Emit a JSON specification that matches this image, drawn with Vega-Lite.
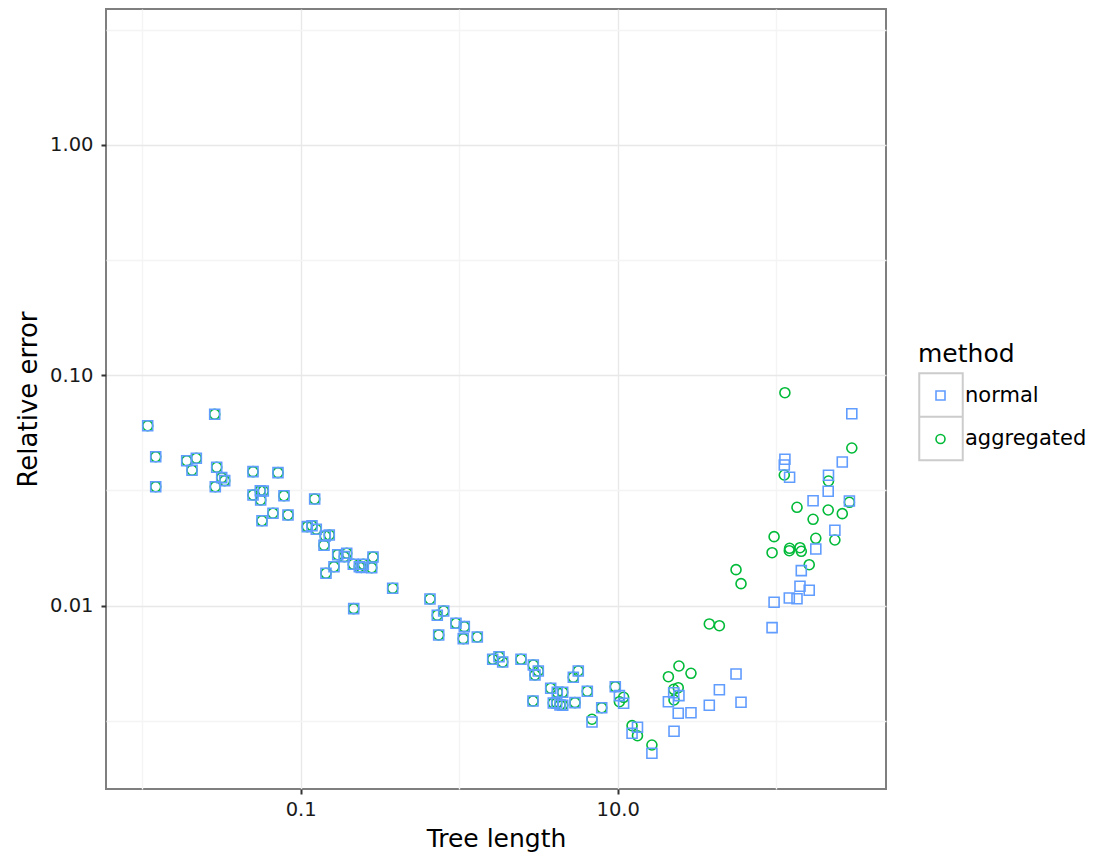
{
  "$schema": "https://vega.github.io/schema/vega-lite/v6.json",
  "width": 780,
  "height": 780,
  "autosize": {"type": "none"},
  "padding": {"left": 106, "top": 9, "right": 208, "bottom": 73},
  "background": "white",
  "config": {
    "font": "DejaVu Sans",
    "view": {"stroke": "#7f7f7f", "strokeWidth": 2},
    "axis": {
      "domain": false,
      "labelFont": "DejaVu Sans",
      "labelFontSize": 19.5,
      "labelColor": "#1a1a1a",
      "titleFont": "DejaVu Sans",
      "titleFontSize": 25,
      "titleFontWeight": "normal",
      "titleColor": "#000000",
      "tickColor": "#333333",
      "tickWidth": 2,
      "tickSize": 5
    },
    "legend": {
      "titleFont": "DejaVu Sans",
      "labelFont": "DejaVu Sans",
      "titleFontWeight": "normal"
    }
  },
  "layer": [
    {
      "data": {"values": []},
      "mark": {"type": "point", "shape": "square", "filled": false, "stroke": "#cccccc", "strokeWidth": 2, "opacity": 1},
      "encoding": {
        "size": {
          "field": "key_box",
          "type": "nominal",
          "scale": {"domain": ["key box 1", "key box 2"], "range": [1892, 0]},
          "legend": {
            "orient": "none",
            "legendX": 812,
            "legendY": 363,
            "title": null,
            "padding": 0,
            "labelExpr": "''",
            "labelFontSize": 1,
            "symbolType": "M-1,-1H1V3H-1ZM-1,1H1",
            "symbolStrokeColor": "#cccccc",
            "symbolFillColor": "transparent",
            "symbolStrokeWidth": 2,
            "rowPadding": 0
          }
        }
      }
    },
    {
      "data": {
        "values": [
          {"tree_length": 0.01083, "normal": 0.06042, "aggregated": 0.06042},
          {"tree_length": 0.02867, "normal": 0.06771, "aggregated": 0.06771},
          {"tree_length": 0.01217, "normal": 0.04432, "aggregated": 0.04432},
          {"tree_length": 0.01217, "normal": 0.03283, "aggregated": 0.03283},
          {"tree_length": 0.01909, "normal": 0.04258, "aggregated": 0.04258},
          {"tree_length": 0.02195, "normal": 0.04361, "aggregated": 0.04361},
          {"tree_length": 0.02062, "normal": 0.03869, "aggregated": 0.03869},
          {"tree_length": 0.02951, "normal": 0.03987, "aggregated": 0.03987},
          {"tree_length": 0.03174, "normal": 0.03593, "aggregated": 0.03593},
          {"tree_length": 0.03315, "normal": 0.03487, "aggregated": 0.03487},
          {"tree_length": 0.02892, "normal": 0.03283, "aggregated": 0.03283},
          {"tree_length": 0.05001, "normal": 0.03815, "aggregated": 0.03815},
          {"tree_length": 0.07189, "normal": 0.03777, "aggregated": 0.03777},
          {"tree_length": 0.05001, "normal": 0.03021, "aggregated": 0.03021},
          {"tree_length": 0.0556, "normal": 0.03154, "aggregated": 0.03154},
          {"tree_length": 0.05808, "normal": 0.03145, "aggregated": 0.03145},
          {"tree_length": 0.05592, "normal": 0.02874, "aggregated": 0.02874},
          {"tree_length": 0.07844, "normal": 0.03, "aggregated": 0.03},
          {"tree_length": 0.1225, "normal": 0.02903, "aggregated": 0.02903},
          {"tree_length": 0.06686, "normal": 0.02517, "aggregated": 0.02517},
          {"tree_length": 0.08316, "normal": 0.02475, "aggregated": 0.02475},
          {"tree_length": 0.05699, "normal": 0.02336, "aggregated": 0.02336},
          {"tree_length": 0.11, "normal": 0.02202, "aggregated": 0.02202},
          {"tree_length": 0.1178, "normal": 0.02223, "aggregated": 0.02223},
          {"tree_length": 0.1254, "normal": 0.02145, "aggregated": 0.02145},
          {"tree_length": 0.1429, "normal": 0.02006, "aggregated": 0.02006},
          {"tree_length": 0.1515, "normal": 0.02026, "aggregated": 0.02026},
          {"tree_length": 0.1403, "normal": 0.01828, "aggregated": 0.01828},
          {"tree_length": 0.1712, "normal": 0.01663, "aggregated": 0.01663},
          {"tree_length": 0.1951, "normal": 0.01687, "aggregated": 0.01687},
          {"tree_length": 0.1884, "normal": 0.01631, "aggregated": 0.01631},
          {"tree_length": 0.2859, "normal": 0.01626, "aggregated": 0.01626},
          {"tree_length": 0.2147, "normal": 0.01511, "aggregated": 0.01511},
          {"tree_length": 0.2343, "normal": 0.01475, "aggregated": 0.01475},
          {"tree_length": 0.2483, "normal": 0.01511, "aggregated": 0.01511},
          {"tree_length": 0.2411, "normal": 0.01466, "aggregated": 0.01466},
          {"tree_length": 0.2805, "normal": 0.0146, "aggregated": 0.0146},
          {"tree_length": 0.1622, "normal": 0.01475, "aggregated": 0.01475},
          {"tree_length": 0.1444, "normal": 0.01381, "aggregated": 0.01381},
          {"tree_length": 0.3805, "normal": 0.01189, "aggregated": 0.01189},
          {"tree_length": 0.216, "normal": 0.0097, "aggregated": 0.0097},
          {"tree_length": 0.6543, "normal": 0.01068, "aggregated": 0.01068},
          {"tree_length": 0.7274, "normal": 0.009077, "aggregated": 0.009077},
          {"tree_length": 0.7983, "normal": 0.009474, "aggregated": 0.009474},
          {"tree_length": 0.9546, "normal": 0.008378, "aggregated": 0.008378},
          {"tree_length": 1.077, "normal": 0.008099, "aggregated": 0.008099},
          {"tree_length": 0.7424, "normal": 0.007456, "aggregated": 0.007456},
          {"tree_length": 1.061, "normal": 0.007184, "aggregated": 0.007184},
          {"tree_length": 1.301, "normal": 0.007307, "aggregated": 0.007307},
          {"tree_length": 1.627, "normal": 0.005845, "aggregated": 0.005845},
          {"tree_length": 1.783, "normal": 0.005999, "aggregated": 0.005999},
          {"tree_length": 1.881, "normal": 0.005689, "aggregated": 0.005689},
          {"tree_length": 2.454, "normal": 0.005845, "aggregated": 0.005845},
          {"tree_length": 2.935, "normal": 0.005521, "aggregated": 0.005521},
          {"tree_length": 3.156, "normal": 0.0052, "aggregated": 0.0052},
          {"tree_length": 3.008, "normal": 0.004995, "aggregated": 0.004995},
          {"tree_length": 3.778, "normal": 0.004375, "aggregated": 0.004375},
          {"tree_length": 2.922, "normal": 0.003853, "aggregated": 0.003853},
          {"tree_length": 5.247, "normal": 0.004882, "aggregated": 0.004882},
          {"tree_length": 5.641, "normal": 0.0052, "aggregated": 0.0052},
          {"tree_length": 4.158, "normal": 0.004203, "aggregated": 0.004203},
          {"tree_length": 4.498, "normal": 0.004203, "aggregated": 0.004203},
          {"tree_length": 3.924, "normal": 0.003777, "aggregated": 0.003777},
          {"tree_length": 4.122, "normal": 0.003777, "aggregated": 0.003777},
          {"tree_length": 4.498, "normal": 0.003691, "aggregated": 0.003691},
          {"tree_length": 4.325, "normal": 0.003702, "aggregated": 0.003702},
          {"tree_length": 5.378, "normal": 0.003789, "aggregated": 0.003789},
          {"tree_length": 6.432, "normal": 0.004246, "aggregated": 0.004246},
          {"tree_length": 7.93, "normal": 0.003603, "aggregated": 0.003603},
          {"tree_length": 9.658, "normal": 0.004445, "aggregated": 0.004445},
          {"tree_length": 6.885, "normal": 0.003124, "aggregated": 0.003209},
          {"tree_length": 10.25, "normal": 0.004063, "aggregated": 0.003826},
          {"tree_length": 10.9, "normal": 0.003764, "aggregated": 0.003998},
          {"tree_length": 12.32, "normal": 0.00279, "aggregated": 0.00301},
          {"tree_length": 13.33, "normal": 0.002962, "aggregated": 0.002723},
          {"tree_length": 16.44, "normal": 0.002284, "aggregated": 0.002481},
          {"tree_length": 20.89, "normal": 0.003826, "aggregated": 0.004911},
          {"tree_length": 22.56, "normal": 0.004186, "aggregated": 0.004331},
          {"tree_length": 22.67, "normal": 0.002846, "aggregated": 0.003891},
          {"tree_length": 24.1, "normal": 0.003407, "aggregated": 0.004401},
          {"tree_length": 24.35, "normal": 0.004063, "aggregated": 0.005466},
          {"tree_length": 29.0, "normal": 0.003427, "aggregated": 0.005082},
          {"tree_length": 37.84, "normal": 0.003691, "aggregated": 0.008321},
          {"tree_length": 43.81, "normal": 0.004313, "aggregated": 0.00818},
          {"tree_length": 55.8, "normal": 0.005047, "aggregated": 0.01432},
          {"tree_length": 60.0, "normal": 0.003804, "aggregated": 0.01245},
          {"tree_length": 94.2, "normal": 0.008019, "aggregated": 0.01697},
          {"tree_length": 97.0, "normal": 0.01034, "aggregated": 0.01992},
          {"tree_length": 112.5, "normal": 0.04079, "aggregated": 0.0369},
          {"tree_length": 113.5, "normal": 0.04319, "aggregated": 0.08403},
          {"tree_length": 121.0, "normal": 0.01079, "aggregated": 0.01731},
          {"tree_length": 121.5, "normal": 0.03606, "aggregated": 0.01773},
          {"tree_length": 135.3, "normal": 0.01071, "aggregated": 0.02672},
          {"tree_length": 141.3, "normal": 0.01213, "aggregated": 0.01784},
          {"tree_length": 144.0, "normal": 0.01418, "aggregated": 0.01721},
          {"tree_length": 161.6, "normal": 0.01165, "aggregated": 0.01505},
          {"tree_length": 170.9, "normal": 0.02854, "aggregated": 0.02369},
          {"tree_length": 177.8, "normal": 0.01761, "aggregated": 0.0196},
          {"tree_length": 212.9, "normal": 0.03135, "aggregated": 0.02601},
          {"tree_length": 213.8, "normal": 0.03679, "aggregated": 0.03476},
          {"tree_length": 234.6, "normal": 0.02123, "aggregated": 0.01927},
          {"tree_length": 261.2, "normal": 0.04203, "aggregated": 0.02507},
          {"tree_length": 289.7, "normal": 0.02846, "aggregated": 0.02809},
          {"tree_length": 300.0, "normal": 0.06811, "aggregated": 0.04834}
        ]
      },
      "transform": [{"fold": ["normal", "aggregated"], "as": ["method", "error"]}],
      "mark": {"type": "point", "filled": false, "strokeWidth": 1.6, "size": 100, "opacity": 1},
      "encoding": {
        "x": {
          "field": "tree_length",
          "type": "quantitative",
          "title": "Tree length",
          "scale": {"type": "log", "domain": [0.00591, 493], "nice": false},
          "axis": {
            "values": [0.01, 0.1, 1, 10, 100],
            "labelExpr": "datum.value == 0.1 ? '0.1' : datum.value == 10 ? '10.0' : ''",
            "labelPadding": 6,
            "titlePadding": 8,
            "tickOpacity": {"condition": {"test": "datum.value == 0.1 || datum.value == 10", "value": 1}, "value": 0},
            "gridColor": {"condition": {"test": "datum.value == 0.1 || datum.value == 10", "value": "#e8e8e8"}, "value": "#f4f4f4"},
            "gridWidth": 1.4
          }
        },
        "y": {
          "field": "error",
          "type": "quantitative",
          "title": "Relative error",
          "scale": {"type": "log", "domain": [0.001598, 3.895], "nice": false},
          "axis": {
            "values": [0.003162, 0.01, 0.03162, 0.1, 0.3162, 1, 3.162],
            "labelExpr": "datum.value == 1 ? '1.00' : datum.value == 0.1 ? '0.10' : datum.value == 0.01 ? '0.01' : ''",
            "labelPadding": 8,
            "titlePadding": 8,
            "titleFontSize": 26,
            "tickOpacity": {"condition": {"test": "datum.value == 1 || datum.value == 0.1 || datum.value == 0.01", "value": 1}, "value": 0},
            "gridColor": {"condition": {"test": "datum.value == 1 || datum.value == 0.1 || datum.value == 0.01", "value": "#e8e8e8"}, "value": "#f4f4f4"},
            "gridWidth": 1.4
          }
        },
        "color": {
          "field": "method",
          "type": "nominal",
          "scale": {"domain": ["normal", "aggregated"], "range": ["#619CFF", "#00BA38"]},
          "legend": {
            "orient": "none",
            "legendX": 812,
            "legendY": 333,
            "title": "method",
            "padding": 0,
            "titleFontSize": 25,
            "titleColor": "#000000",
            "titlePadding": 18,
            "labelFontSize": 21,
            "labelColor": "#000000",
            "symbolSize": 81,
            "symbolStrokeWidth": 1.6,
            "symbolOffset": 12,
            "labelOffset": 14,
            "rowPadding": 21.5
          }
        },
        "shape": {
          "field": "method",
          "type": "nominal",
          "scale": {"domain": ["normal", "aggregated"], "range": ["square", "circle"]}
        },
        "order": {"field": "method", "sort": "ascending"}
      }
    }
  ]
}
